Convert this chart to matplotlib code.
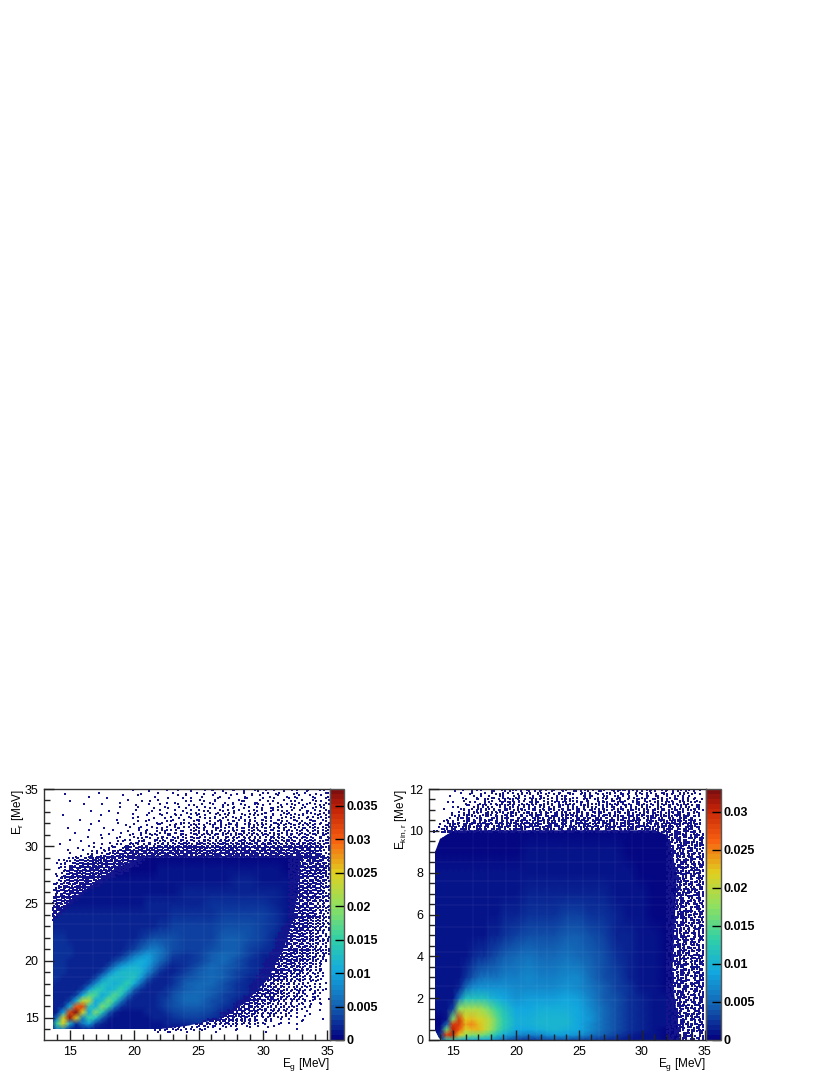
#!/usr/bin/env python
"""Two 2D energy histograms with ROOT style palette, values read off the picture."""
import numpy as np
import matplotlib
matplotlib.use("Agg")
import matplotlib.pyplot as plt
from matplotlib.colors import LinearSegmentedColormap, Normalize
from matplotlib.patches import Polygon

plt.rcParams["font.family"] = ["Liberation Sans", "DejaVu Sans"]
plt.rcParams["mathtext.fontset"] = "custom"
plt.rcParams["mathtext.rm"] = "Liberation Sans"
plt.rcParams["mathtext.default"] = "rm"

# left panel, cell values in units of 1e-4
left_x = [13.5, 14, 14.5, 15, 15.5, 16, 16.5, 17, 17.5, 18, 18.5, 19, 19.5, 20, 20.5, 21, 21.5, 22, 22.5, 23,
          24, 25, 26, 27, 28, 29, 30, 31, 32, 33]
left_y = [14, 14.5, 15, 15.5, 16, 16.5, 17, 17.5, 18, 18.5, 19, 19.5, 20, 20.5, 21, 22, 23, 24, 25, 26, 27, 28, 29]
left_z = [
    [8, 60, 70, 15, 8, 15, 20, 10, 8, 8, 8, 8, 8, 8, 8, 8, 8, 9, 9, 10, 12, 12, 12, 12, 12, 10, 10, 8, 7, 6],
    [12, 150, 240, 110, 25, 60, 90, 35, 15, 10, 10, 10, 10, 10, 11, 11, 12, 13, 15, 18, 22, 24, 20, 15, 12, 10, 10, 8, 7, 6],
    [12, 60, 240, 360, 250, 70, 150, 120, 45, 20, 13, 12, 12, 12, 13, 14, 16, 18, 22, 27, 33, 32, 25, 18, 13, 10, 10, 8, 7, 6],
    [14, 20, 100, 320, 375, 240, 100, 190, 140, 50, 20, 14, 13, 13, 14, 16, 18, 22, 27, 34, 44, 40, 30, 20, 15, 11, 10, 8, 7, 6],
    [18, 16, 25, 110, 300, 320, 130, 110, 190, 150, 60, 25, 16, 15, 16, 17, 20, 25, 32, 40, 52, 50, 38, 26, 17, 13, 11, 8, 7, 6],
    [20, 18, 16, 30, 110, 230, 220, 100, 120, 180, 140, 60, 25, 17, 17, 18, 21, 25, 32, 42, 56, 55, 42, 30, 19, 14, 11, 9, 7, 6],
    [22, 20, 18, 16, 30, 100, 170, 160, 100, 130, 170, 130, 55, 25, 19, 18, 21, 24, 29, 40, 55, 58, 47, 34, 23, 15, 12, 9, 8, 6],
    [22, 22, 20, 18, 18, 30, 90, 140, 135, 110, 120, 155, 115, 50, 25, 20, 21, 22, 25, 34, 50, 58, 52, 38, 25, 16, 13, 10, 8, 6],
    [24, 22, 20, 18, 18, 20, 35, 80, 125, 125, 110, 120, 145, 110, 55, 28, 21, 21, 22, 28, 45, 56, 56, 41, 29, 19, 14, 10, 8, 6],
    [25, 24, 22, 20, 18, 18, 22, 35, 80, 115, 125, 115, 120, 130, 95, 50, 28, 21, 20, 23, 38, 52, 58, 45, 31, 21, 15, 11, 9, 6],
    [26, 25, 23, 21, 20, 18, 18, 22, 35, 70, 105, 120, 120, 120, 115, 80, 45, 28, 21, 20, 30, 48, 58, 50, 35, 24, 18, 13, 9, 6],
    [26, 26, 24, 22, 20, 19, 18, 18, 22, 35, 60, 90, 110, 115, 110, 95, 65, 40, 28, 21, 25, 40, 55, 52, 38, 26, 19, 13, 10, 8],
    [26, 26, 24, 22, 21, 20, 19, 18, 18, 22, 30, 45, 70, 95, 105, 100, 80, 58, 40, 28, 25, 35, 50, 55, 41, 29, 20, 14, 10, 8],
    [26, 25, 24, 23, 21, 20, 19, 19, 18, 18, 20, 25, 38, 60, 80, 90, 80, 65, 50, 36, 25, 31, 45, 55, 45, 31, 21, 15, 10, 8],
    [25, 25, 24, 23, 21, 20, 19, 19, 18, 18, 18, 20, 25, 35, 50, 65, 70, 62, 52, 42, 30, 31, 41, 52, 48, 35, 25, 16, 11, 8],
    [24, 24, 23, 22, 21, 20, 19, 18, 18, 17, 17, 17, 18, 21, 24, 32, 38, 42, 42, 40, 34, 32, 36, 45, 48, 42, 30, 19, 13, 9],
    [22, 22, 21, 20, 20, 19, 18, 17, 17, 16, 16, 16, 16, 17, 18, 20, 22, 26, 29, 31, 31, 31, 33, 38, 42, 42, 35, 23, 14, 9],
    [19, 19, 18, 18, 17, 17, 16, 16, 16, 15, 15, 15, 15, 15, 16, 17, 18, 20, 21, 23, 24, 26, 28, 31, 35, 35, 31, 23, 14, 9],
    [13, 14, 14, 14, 14, 14, 14, 14, 14, 14, 14, 14, 14, 14, 14, 15, 15, 16, 17, 18, 19, 21, 23, 25, 28, 28, 25, 19, 13, 8],
    [9, 10, 10, 11, 11, 11, 11, 11, 11, 11, 11, 11, 11, 11, 12, 12, 12, 13, 13, 14, 16, 17, 18, 19, 20, 20, 19, 15, 10, 7],
    [7, 7, 7, 7, 7, 8, 8, 8, 8, 8, 8, 8, 8, 9, 9, 9, 9, 10, 10, 11, 12, 13, 14, 14, 15, 15, 14, 12, 8, 5],
    [5, 5, 6, 6, 6, 6, 6, 6, 6, 7, 7, 7, 7, 7, 7, 7, 7, 8, 8, 8, 9, 9, 10, 10, 10, 10, 10, 9, 7, 4],
    [3, 3, 3, 4, 4, 4, 4, 4, 4, 4, 4, 4, 4, 4, 5, 5, 5, 5, 5, 5, 6, 6, 6, 6, 6, 6, 6, 5, 4, 3],
]
left_edge = [(13.7, 14.0), (22, 14.0), (24, 14.3), (26.6, 14.9), (28.6, 16.3), (30.4, 18.4), (31.7, 21.4), (32.3, 23.6),
             (32.7, 26), (32.8, 29), (31, 29.3), (25, 29.3), (21, 29.2), (18.6, 28.1), (15.2, 25.4), (14, 24.1), (13.7, 23.5)]
left_hstripes = [17.3, 18.6, 19.4, 20.7, 21.8, 23.2, 24.1, 25.6, 26.9]
left_vstripes = [16.8, 18.3, 19.7, 21.2, 22.6, 23.9, 25.4, 26.8, 28.1, 29.6]

# occupied bins outside the solid area, one hex digit = 2x2 bins, rows run down from the top
left_top = [
    "00000000000000000000000020000400000100200040000103004002100800240010200400120041002010",
    "00040000000000100000000000080000200001000800204000100200080104000120081000420010040021",
    "00000000000800000000020000100004000000200100008002040001000402001008020040081002400108",
    "00000000000000002000000800000000400200001020040000810020040210008100200401020800410024",
    "00000100000000000000400000020010000804000120002040100804002100480020140002018004020140",
    "00000000020000010000000004000200010000200084001002004082001400220801004020180420014082",
    "00000000000000000000200000100008002400010800200140802004100820014004820102400810420180",
    "00000000000400000800000002000040010002008020014080024010820040182004120840102048014024",
    "00000000000000000000100040000200080104000240180020410820104008204210800241080420184012",
    "00010000000000200000000000800100020040120080240100820414008240120484102082401208401824",
    "00000000800000000004000020000401002008014020480120142080241408204812048102481024801420",
    "00000000000000100000800000102000840120044082010420819042180241284012484128024184210824",
    "00000000000200000000004001000800210084120042814024108421480241842814028412481428412048",
    "00004000000000040000000200410020840102482014284102481824014824182481428412081482418242",
    "00000000000100000020000800204100824120148024182408241842814824128482148241824128418241",
    "00000020000000000800010040012084012482148024814281482418248124182481248124824182481241",
    "00000000004000200000400208014820148218428148241824182481a4281a4281a4a4182a4814a1824a18",
    "00000800000000010002008400128014a2814a24814a2148a2418a42814a28a4148a281a4a8241a4a8214a",
    "00000000200040000400120084a2148241a4281a4a8245a1a42a5a1a4a5a8a5a1a4a5a82a5a1a4a5a8a248",
    "00100000000800010082014a28145a1a4a5a8a4a5ac5a3a5ac5a3a5ac3a5a3c5a7a3c5a5ac3a5ac3a5a814",
    "00000004000020400821045a14a5a8c5a3a5ac53a7c5a7ac53a7e5ac7a5e3a7c5e3a5c7a3e5a7c5e3a5a24",
    "00002000010084028148a5a3c5a7c3a5e7a3c7e5a7c3e7a5c7e3a5e7c3a7e5c3e7a5c7e3a5e7c3a7c5a812",
    "00000100004082014a2a5c3a7e5c3a7e5b7e3d7a5e7bd3e7a5de3b7e5d7b3e7d5a7e3db7e5a7d3e7a5c824",
    "00000008200a14a25c3a7e5b3d7e5b7d3e7b5ed7b3e5d7be3d7b5e3d7be5d3b7e5d7b3ed7b5e3d7b5e3a18",
]
left_arm = [
    "0084012a5c3a7e5bd3e7a5de3b7e5",
    "0400a24a5c3a7e5d7b3e7d5a7e3d",
    "0020148a5e3b7d5e7b3d7b5e7bd",
    "00a014a5c3b7e5d3a7e5bd7e3",
    "00045a3c5a7e3b5d7e5a7d7e",
    "08014a5e3a5c7e5b3d7b5e",
    "020a5c3a7e5a3d7e5b7d",
    "00a15a3c5e7b3d5e7b",
    "04245a3e5c7b5e3d",
    "21a5c3a5e7b3d5e",
    "08a4a5c7e5b3d",
    "25a3c5e7a5d",
    "0a4a5e3b7d",
    "45a3c5e7b",
    "25c3a7e5",
    "a5c3e7b",
    "47a5e3",
    "a5c7e",
    "5a3e",
    "a5e",
    "3c",
    "a",
]
left_right = [
    "e5b7d3e7b5e3a", "7e3d5a7e3b5c2", "d5b7e3a5e7c5a", "7e5a3d7b5a3e4", "e3d7a5c3e7a52", "b5e7c3a5d3a74",
    "d3a5e7a3c5e28", "5e7b3a5c7a5c1", "a3d5e3a7c3a52", "e7a5c3e5a3a44", "5c3a7e3a5c2a1", "7a5e3c5a3c582",
    "e3c5a7a3c5a24", "5a7e3c5a5c2a1", "a3c5a7c3a5a42", "7e5a3c5a3a2a1", "c3a5e7a3c5284", "5a7c3a5c3a241",
    "e3c5a3a5a2a42", "a5c3e5a3c2181", "7a3c5a3a5a244", "5e3a7c3a2a412",
    "7d5a3c5a2a428",
    "b5e3a7c5a2a412",
    "e7a3d5c3a2a4124",
    "5d3a7e3a5a2a412",
    "b7e5a3c5a2a41240",
    "d3a7b5a3c2a4a124",
    "7e5b3a5c3a2a41281",
    "e3d7a5c3a5a24a241",
    "5b7e3a5a3c2a41240",
    "d7a3e5c3a5a2a4124",
    "7e5b3a5c2a5a241a24",
    "b3d7a5e3a2a5a2412a4",
    "e7a5d3a5c3a2a4a2410",
    "5b3e7a3c5a2a5a241240",
    "d7e3a5a7c3a2a4a24120",
    "7a5e3d5a3c5a2a4a24100",
    "e3b7a5c3a5a2a4a124800",
    "5d7a3e5a3c2a5a24124100",
    "b7a5c3a5a2a4a241281200",
    "3e5a7a3a5a24a2412841200",
    "a5c3a2a5a2412a412408100",
    "5a3a24a2412a412408120040",
    "e5a3d5a2a4a21241284012000",
    "7a3c5a2a5a2412a4120812040",
    "b5e3a7a2c4a2412a412081200",
    "d3a5c3a5a2a41241280412000",
    "7e5a3a2c5a24a412a4120481000",
    "b3d7a5c2a5a2412a41280412002",
    "e7a3c5a2a4a241284120812004000",
    "5b3a7c2a5a241a2412841204100100",
    "d7a5e3a2a4a241a241240812000000",
    "7e3a5a2c5a2412a41284120040002000",
    "b5a3c5a2a4a2412a412081020004000000",
    "e3a7a2a5a2412841240812040010000000",
    "5a3c5a2a41a241280412002001000400000200",
    "a5a3a2a5a2412a41240812004008000100000000",
    "3a5a24a2412a412081240200401000020000000000",
    "a2a412841240812040200080001000020000000040000000000",
    "2412480120402001000400000200000000080000000000000000000",
]

# right panel, cell values in units of 1e-4
right_x = [13.5, 14, 14.5, 15, 15.5, 16, 16.5, 17, 17.5, 18, 18.5, 19, 20, 21, 22, 23, 24, 25, 26, 27, 28, 29, 30,
           31, 32, 33]
right_y = [0, 0.25, 0.5, 0.75, 1, 1.5, 2, 2.5, 3, 4, 5, 6, 7, 8, 9, 10]
right_z = [
    [3, 20, 120, 130, 100, 90, 90, 90, 90, 80, 65, 52, 32, 25, 30, 36, 36, 32, 28, 20, 16, 12, 9, 7, 5, 4],
    [3, 20, 280, 300, 220, 180, 170, 170, 160, 145, 115, 95, 70, 64, 72, 82, 82, 75, 58, 40, 28, 18, 12, 9, 6, 4],
    [5, 8, 160, 310, 270, 215, 230, 225, 205, 180, 150, 122, 92, 88, 96, 102, 96, 88, 68, 48, 33, 22, 15, 10, 6, 4],
    [5, 6, 50, 290, 290, 235, 245, 230, 210, 185, 155, 128, 96, 95, 100, 102, 100, 92, 72, 50, 35, 23, 15, 10, 7, 4],
    [6, 6, 12, 170, 285, 220, 225, 215, 205, 185, 155, 128, 96, 95, 100, 100, 100, 92, 74, 52, 37, 24, 15, 11, 7, 4],
    [7, 7, 7, 30, 175, 190, 185, 185, 175, 155, 132, 115, 90, 90, 94, 96, 96, 88, 70, 50, 35, 24, 15, 11, 7, 4],
    [10, 10, 10, 12, 55, 115, 118, 118, 115, 105, 98, 92, 78, 80, 84, 84, 88, 80, 64, 46, 33, 22, 14, 10, 7, 4],
    [11, 11, 11, 11, 17, 50, 72, 78, 78, 76, 74, 74, 68, 72, 72, 72, 76, 70, 56, 42, 29, 20, 13, 9, 6, 4],
    [12, 12, 12, 12, 12, 20, 35, 48, 55, 58, 58, 60, 64, 72, 64, 60, 68, 66, 52, 38, 27, 19, 13, 9, 6, 4],
    [12, 12, 12, 12, 12, 12, 16, 20, 25, 32, 36, 42, 50, 55, 50, 50, 54, 52, 43, 33, 24, 17, 12, 8, 5, 3],
    [11, 11, 11, 11, 11, 11, 11, 12, 13, 15, 18, 22, 30, 38, 36, 36, 40, 40, 33, 27, 19, 14, 10, 7, 5, 3],
    [10, 10, 10, 10, 10, 10, 10, 10, 11, 12, 13, 14, 17, 22, 24, 25, 28, 29, 25, 21, 16, 12, 9, 6, 4, 3],
    [9, 9, 9, 9, 9, 9, 9, 9, 9, 9, 10, 10, 12, 14, 16, 17, 18, 19, 18, 15, 13, 9, 7, 5, 4, 3],
    [8, 8, 8, 8, 8, 8, 8, 8, 8, 8, 8, 8, 9, 10, 11, 11, 12, 13, 13, 11, 9, 7, 6, 4, 3, 2],
    [6, 6, 6, 6, 6, 6, 6, 6, 6, 6, 6, 6, 6, 7, 7, 8, 8, 9, 9, 8, 7, 6, 5, 3, 3, 2],
    [3, 3, 3, 3, 3, 3, 3, 3, 3, 3, 4, 4, 4, 4, 4, 4, 4, 4, 4, 4, 4, 4, 3, 3, 2, 2],
]
right_edge = [(13.6, 0.5), (13.9, 0.1), (14.1, 0), (33, 0), (32.4, 3), (32.8, 8), (32, 9.8), (30, 10.3), (20, 10.5),
              (15, 10.0), (14, 9.6), (13.6, 9)]
right_hstripes = [8.5, 6.85, 6.46, 5.4, 4.2, 3.5, 2.6, 1.9, 7.6, 9.2]
right_vstripes = [16.6, 17.8, 19.2, 20.4, 21.7, 22.5, 24.1, 25.3, 26.6, 27.9, 29.2, 30.1]

right_top = [
    "0000000400100820100490240811402908412061029104860192048102941308160924180261094208140200",
    "0000000002004100810240892014092600914208610298041960284019206841092860140298410962081400",
    "0000001000800240102480194028901460298140926108402961084190268109420861029401862094108000",
    "0000000000410021091402860192841096208140926198402680194206819420861094218609421896024010",
    "0000020100082014092840612960184296108942601984261098462198462908169420819462098164201200",
    "0000000840021409628401962894160928619428691609426198426096814296081964209816942609816900",
    "0000100002608141962094869146298169428619429681692849162984162946819628491694268196429140",
    "0000004001409628149628194698146984296814962984619482969148629469814629681946296914862800",
    "0000002409261984269168429681694296b1684e961b29e4961d864b19e6482d961b48e619d642b96e148900",
    "0000081062169426984e1962b4861e9429b68e1964db2869e1b46d921e864b19e6d249b16e829d4b61e98400",
    "0000160948261e964b2869e1d64b29e864b19d6e24b961de8b429e6d1b984e6b1d942eb6819d6e2b49e61400",
    "0001409b2869e14d96b28e61d94be2869db14e96d2b8e4196bd2e864b9d16e2b94de681b96e4d2b916e8b200",
    "0024896e14d9b26e8d149eb6284de9b164e2db986e14bd962e8b4d16eb92d46e9b18de64b29ed1684be92900",
    "0914e6b29de864b19e6d24bd96e18d4b296de1b48e96db24e1b96d8e42b96ed148b2e96d14be96d82b4e9600",
]
right_right = [
    "9e6b1d942e860", "b46d921e8b4d0", "6e1b96d8e4290", "d924e6b19e6d0", "2b96e14d8b240", "e6d19b4e96280",
    "94be6d28e1b40", "6d1b9e2d94e60", "b29e84d6b1290", "e4d16b92e8d60", "1b96d8e4296b0", "d6e92b14be840",
    "29b6e1d964e20", "e8d42b96e1d40", "64be9d1682b90", "9d16e2b48e640", "b2e8d61b94d20", "6b1e94d2e8690",
    "d94b2e6d1b840", "2e86d9b14e960", "b6d1e82b94d20", "e19b6d4e28b40", "64d9e1b86d290", "9b2e6d148e960",
    "e6b194de82b40", "1d86e9b24d690", "b94e6d1b28e40", "6de12b96d4890", "e2b96d18e4b20", "94e6b1d2986d0",
    "d1b8e6492db40", "6e29b4d1e8960", "b1d96e4829d40", "e86d2b94e1690", "2d9e16b4d8b20", "b64e9d12e6840",
    "e1b29e6d48960", "6d94be18d2b40", "92e6d1b94e860", "d6b19e42d8b90", "e4d9b6128e640", "1b6e94d2896d0",
    "d92e6b14de820", "b6d14e98b2690", "e18b6d492e940", "6d9e21b48d6b0", "94b6e1d8296e0", "e2d96b148e940",
    "1be694d2b8d60", "d6921eb48e290", "b4e6d9182b640", "e91b6d24e8960", "2d86be194d6b0", "96e1d4b2e8690",
    "d1b69e482db40", "6e92b1d4986e0", "b4d9e1682d960", "e16b92d8e4b40", "94d6e1b29e860", "b2e94d16b8e20",
    "d6196be48d290", "e8b2d96e14b60", "1d6e9b48e2d40", "b96d14e8b2690", "e4b296de18640", "6d1e8b94d2960",
    "92be6d14e8b20",
]

# palette, as fraction of the scale and RGB
pal_pos = [0, 0.133, 0.267, 0.4, 0.533, 0.667, 0.8, 0.933, 1]
pal_rgb = [(4, 6, 130), (20, 100, 180), (18, 168, 224), (47, 208, 168), (144, 224, 96), (224, 208, 32),
           (248, 96, 16), (192, 32, 8), (128, 16, 16)]

W, H = 830, 1075


def px_axes(fig, x0, x1, y0, y1):
    return fig.add_axes([x0 / W, 1 - y1 / H, (x1 - x0) / W, (y1 - y0) / H])


def occupied(rows, x_anchor, y_top, dx, dy, right=True):
    # hex digit bits are the four bins of one cell, clockwise from top left
    corner = [(0, 0), (1, 0), (1, 1), (0, 1)]
    xs, ys = [], []
    for i, row in enumerate(rows):
        x0 = x_anchor - len(row) * dx if right else x_anchor
        for j, ch in enumerate(row):
            bits = int(ch, 16)
            for b in range(4):
                if bits >> b & 1:
                    xs.append(x0 + (j + corner[b][0] * 0.5 + 0.25) * dx)
                    ys.append(y_top - (i + corner[b][1] * 0.5 + 0.25) * dy)
    return xs, ys


def panel(fig, box, cbox, xs, ys, z, edge, specks, hstripes, vstripes, xlim, ylim, vmax, cticks, yticks, yminor,
          ylabel, ypad):
    ax = px_axes(fig, *box)
    norm = Normalize(0, vmax)
    mesh = ax.pcolormesh(xs, ys, np.array(z) * 1e-4, cmap=cmap, norm=norm, shading="gouraud", rasterized=True)
    clip = Polygon(edge, transform=ax.transData)
    mesh.set_clip_path(clip)
    for art in (ax.hlines(hstripes, xs[0], xs[-1], color="white", alpha=0.04, linewidth=1.2),
                ax.vlines(vstripes, ys[0], ys[-1], color="white", alpha=0.03, linewidth=1.2)):
        art.set_clip_path(clip)
    ax.scatter(specks[0], specks[1], s=1.4, marker="s", color="#14148c", linewidths=0)
    ax.set_xlim(*xlim)
    ax.set_ylim(*ylim)
    ax.set_xticks([15, 20, 25, 30, 35])
    ax.set_xticks(np.arange(14, 36), minor=True)
    ax.set_yticks(yticks)
    ax.set_yticks(yminor, minor=True)
    ax.tick_params(which="major", direction="in", length=7, width=1, color="#222222", labelsize=9, pad=4)
    ax.tick_params(which="minor", direction="in", length=4, width=1, color="#222222")
    ax.set_axisbelow(False)
    for s in ax.spines.values():
        s.set_linewidth(1.0)
        s.set_color("#333333")
    ax.set_xlabel("E$_{g}$ [MeV]", loc="right", fontsize=8.5, labelpad=-1)
    ax.set_ylabel(ylabel, loc="top", fontsize=8.5, labelpad=ypad)

    cax = px_axes(fig, *cbox)
    cb = fig.colorbar(plt.cm.ScalarMappable(norm=norm, cmap=cmap), cax=cax)
    cb.set_ticks(cticks, labels=[f"{t:g}" for t in cticks])
    cb.ax.tick_params(direction="in", length=6.5, width=1, color="black", pad=2, labelsize=9)
    for t in cb.ax.get_yticklabels():
        t.set_fontweight("bold")
    cb.outline.set_linewidth(1.0)
    cb.outline.set_edgecolor("#555555")


cmap = LinearSegmentedColormap.from_list(
    "palette", [(p, (r / 255, g / 255, b / 255)) for p, (r, g, b) in zip(pal_pos, pal_rgb)], N=50)

lx1, ly1 = occupied(left_top, 35.2, 35.0, 0.25, 0.25)
lx2, ly2 = occupied(left_arm, 13.6, 29.0, 0.25, 0.25, right=False)
lx3, ly3 = occupied(left_right, 35.2, 29.0, 0.25, 0.25)
rx1, ry1 = occupied(right_top, 35.2, 12.0, 0.25, 0.15)
rx2, ry2 = occupied(right_right, 35.2, 9.9, 0.25, 0.15)

fig = plt.figure(figsize=(W / 100, H / 100), dpi=100)
panel(fig, (44, 330, 789, 1040), (330, 344, 789, 1040), left_x, left_y, left_z, left_edge,
      (lx1 + lx2 + lx3, ly1 + ly2 + ly3), left_hstripes, left_vstripes,
      (13.0, 35.2), (13.07, 35.0), 0.0375, [0, 0.005, 0.01, 0.015, 0.02, 0.025, 0.03, 0.035],
      [15, 20, 25, 30, 35], np.arange(14, 36), "E$_{r}$ [MeV]", -1)
panel(fig, (429, 706, 789, 1040), (706, 721, 789, 1040), right_x, right_y, right_z, right_edge,
      (rx1 + rx2, ry1 + ry2), right_hstripes, right_vstripes,
      (13.1, 35.1), (0, 12), 0.033, [0, 0.005, 0.01, 0.015, 0.02, 0.025, 0.03],
      [0, 2, 4, 6, 8, 10, 12], np.arange(0, 12.1, 0.5), "E$_{kin,r}$ [MeV]", 0)
fig.savefig("out.png", dpi=100)
